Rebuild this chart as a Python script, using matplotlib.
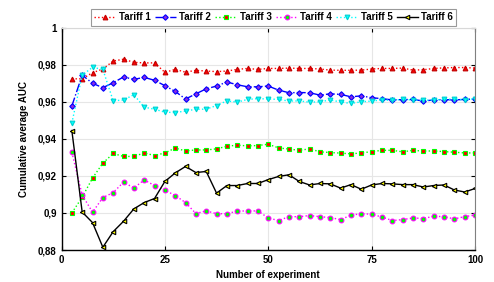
import matplotlib
matplotlib.use("Agg")
import matplotlib.pyplot as plt
import numpy as np
from matplotlib.ticker import FuncFormatter

experiments = [2.5 * (i + 1) for i in range(40)]

tariff1 = [0.9724, 0.9724, 0.9757, 0.9777, 0.9820, 0.9830, 0.9813, 0.9810, 0.9810, 0.9759,
           0.9775, 0.9760, 0.9770, 0.9766, 0.9763, 0.9766, 0.9775, 0.9780, 0.9775, 0.9780,
           0.9780, 0.9782, 0.9780, 0.9780, 0.9777, 0.9771, 0.9770, 0.9770, 0.9771, 0.9777,
           0.9780, 0.9780, 0.9782, 0.9771, 0.9773, 0.9780, 0.9783, 0.9785, 0.9785, 0.9782]
tariff2 = [0.9577, 0.9744, 0.9700, 0.9676, 0.9703, 0.9734, 0.9721, 0.9732, 0.9716, 0.9687,
           0.9656, 0.9615, 0.9643, 0.9670, 0.9685, 0.9707, 0.9692, 0.9681, 0.9681, 0.9685,
           0.9663, 0.9649, 0.9650, 0.9649, 0.9636, 0.9643, 0.9640, 0.9627, 0.9632, 0.9622,
           0.9617, 0.9610, 0.9612, 0.9613, 0.9604, 0.9610, 0.9612, 0.9610, 0.9613, 0.9615]
tariff3 = [0.9000, 0.9085, 0.9188, 0.9269, 0.9321, 0.9305, 0.9305, 0.9324, 0.9310, 0.9324,
           0.9350, 0.9335, 0.9340, 0.9340, 0.9346, 0.9360, 0.9366, 0.9362, 0.9364, 0.9371,
           0.9351, 0.9345, 0.9338, 0.9346, 0.9330, 0.9326, 0.9323, 0.9319, 0.9324, 0.9331,
           0.9338, 0.9338, 0.9330, 0.9338, 0.9334, 0.9335, 0.9331, 0.9328, 0.9324, 0.9324]
tariff4 = [0.9328, 0.9097, 0.9004, 0.9083, 0.9110, 0.9166, 0.9135, 0.9178, 0.9148, 0.9123,
           0.9094, 0.9056, 0.8997, 0.9011, 0.8996, 0.8996, 0.9010, 0.9011, 0.9011, 0.8973,
           0.8959, 0.8980, 0.8980, 0.8986, 0.8980, 0.8975, 0.8964, 0.8988, 0.8996, 0.8993,
           0.8978, 0.8959, 0.8964, 0.8973, 0.8970, 0.8982, 0.8980, 0.8968, 0.8980, 0.8989]
tariff5 = [0.9485, 0.9744, 0.9786, 0.9775, 0.9605, 0.9610, 0.9638, 0.9571, 0.9560, 0.9544,
           0.9542, 0.9550, 0.9560, 0.9560, 0.9580, 0.9605, 0.9598, 0.9613, 0.9617, 0.9615,
           0.9613, 0.9604, 0.9605, 0.9598, 0.9600, 0.9610, 0.9599, 0.9591, 0.9600, 0.9604,
           0.9610, 0.9608, 0.9613, 0.9610, 0.9608, 0.9610, 0.9613, 0.9615, 0.9610, 0.9617]
tariff6 = [0.9445, 0.9005, 0.8948, 0.8815, 0.8899, 0.8955, 0.9022, 0.9056, 0.9078, 0.9170,
           0.9216, 0.9251, 0.9218, 0.9224, 0.9107, 0.9148, 0.9148, 0.9159, 0.9159, 0.9180,
           0.9197, 0.9206, 0.9170, 0.9151, 0.9159, 0.9157, 0.9134, 0.9153, 0.9128, 0.9151,
           0.9159, 0.9157, 0.9153, 0.9153, 0.9140, 0.9148, 0.9151, 0.9124, 0.9113, 0.9132]

labels = ["Tariff 1", "Tariff 2", "Tariff 3", "Tariff 4", "Tariff 5", "Tariff 6"]
series = [tariff1, tariff2, tariff3, tariff4, tariff5, tariff6]

xticks = [0, 25, 50, 75, 100]
yticks = [0.88, 0.90, 0.92, 0.94, 0.96, 0.98, 1.0]

styles = [
    dict(color="#ff0000", ls=":", marker="^", mfc="#ff0000", mec="#c00000"),
    dict(color="#0000ff", ls="-.", marker="D", mfc="#8a2be2", mec="#0000ff"),
    dict(color="#00ff00", ls=":", marker="s", mfc="#ff0000", mec="#00ff00"),
    dict(color="#ff00ff", ls=":", marker="o", mfc="#00ff00", mec="#ff00ff"),
    dict(color="#00ffff", ls=":", marker="v", mfc="#00ffff", mec="#00d0d0"),
    dict(color="#000000", ls="-", marker="<", mfc="#ffff00", mec="#000000"),
]
msizes = [3.4, 2.8, 3.2, 3.4, 3.4, 3.2]

plt.rcParams['font.family'] = ['Liberation Sans', 'DejaVu Sans']
plt.rcParams['font.weight'] = 'bold'

fig = plt.figure(figsize=(4.94, 2.82), dpi=100)
ax = fig.add_axes([61.5 / 494, 1 - 250 / 282, (475 - 61.5) / 494, (250 - 27.7) / 282])

for s, lab, st, ms in zip(series, labels, styles, msizes):
    ax.plot(experiments, s, label=lab, lw=1.0, ms=ms, mew=0.8, **st)

ax.set_xlim(0, 100)
ax.set_ylim(0.88, 1.0)
ax.set_xticks(xticks)
ax.set_yticks(yticks)

def fmt(v, pos):
    s = ("%.2f" % v).rstrip("0").rstrip(".")
    return s.replace(".", ",")

ax.yaxis.set_major_formatter(FuncFormatter(fmt))
ax.tick_params(labelsize=7, length=3, direction='in', width=0.8, right=True, top=True)
for lbl in ax.get_xticklabels() + ax.get_yticklabels():
    lbl.set_fontweight('bold')
ax.grid(True, color="#e6e6e6", lw=0.8)
ax.set_axisbelow(True)
for side in ['left', 'bottom']:
    ax.spines[side].set_color('#000000')
    ax.spines[side].set_linewidth(1.0)
ax.spines['right'].set_color('#808080')
ax.spines['top'].set_color('#d8d8d8')

ax.set_xlabel("Number of experiment", fontsize=7, fontweight='bold', labelpad=4)
ax.set_ylabel("Cumulative average AUC", fontsize=7, fontweight='bold', labelpad=6)

leg = ax.legend(loc='lower center', bbox_to_anchor=(0.513, 1.0), ncol=6, fontsize=7,
                frameon=True, fancybox=False, edgecolor='#808080', borderpad=0.35,
                handlelength=2.2, handletextpad=0.3, columnspacing=0.45, borderaxespad=0.2)
leg.get_frame().set_linewidth(0.8)
for t in leg.get_texts():
    t.set_fontweight('bold')

fig.savefig("out.png", dpi=100)
